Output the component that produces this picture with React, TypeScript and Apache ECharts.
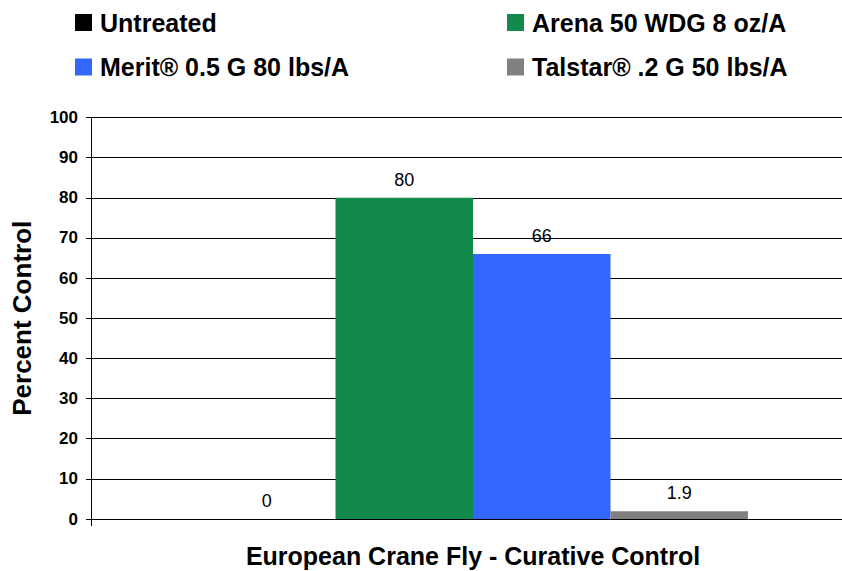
import React, { useEffect, useRef } from "react";
import * as echarts from "echarts";

const categories = ["European Crane Fly - Curative Control"];
const seriesNames = [
  "Untreated",
  "Arena 50 WDG 8 oz/A",
  "Merit® 0.5 G 80 lbs/A",
  "Talstar® .2 G 50 lbs/A",
];
const untreatedValues = [0];
const arenaValues = [80];
const meritValues = [66];
const talstarValues = [1.9];
const seriesValues = [untreatedValues, arenaValues, meritValues, talstarValues];
const colors = ["#000000", "#128A4C", "#3366FF", "#808080"];
const yMin = 0;
const yMax = 100;
const yInterval = 10;
const xTitle = "European Crane Fly - Curative Control";
const yTitle = "Percent Control";

const FONT = "'Liberation Sans', Arial, Helvetica, sans-serif";

export default function App() {
  const ref = useRef<HTMLDivElement>(null);

  useEffect(() => {
    if (!ref.current) return;
    const chart = echarts.init(ref.current, null, { renderer: "svg" });

    const legendPos = [
      { left: 75, top: 10 },
      { left: 507, top: 10 },
      { left: 75, top: 54.5 },
      { left: 507, top: 54.5 },
    ];
    const legends = seriesNames.map((name, i) => ({
      data: [name],
      left: legendPos[i].left,
      top: legendPos[i].top,
      padding: 0,
      itemWidth: 17,
      itemHeight: 17,
      icon: "rect",
      selectedMode: false,
      textStyle: {
        fontFamily: FONT,
        fontSize: 25,
        fontWeight: "bold",
        color: "#000",
        lineHeight: 25,
        padding: [0, 0, 0, 3],
      },
    }));

    chart.setOption({
      animation: false,
      backgroundColor: "#ffffff",
      legend: legends,
      grid: {
        left: 91,
        right: -13,
        top: 117.5,
        bottom: 52,
        containLabel: false,
        outerBoundsMode: "none",
      },
      xAxis: {
        type: "category",
        data: categories,
        boundaryGap: true,
        axisLabel: { show: false },
        axisLine: { show: true, lineStyle: { color: "#000", width: 1 } },
        axisTick: {
          show: true,
          length: 7,
          alignWithLabel: false,
          lineStyle: { color: "#000", width: 1 },
        },
        splitLine: { show: false },
        name: xTitle,
        nameLocation: "middle",
        nameGap: 28,
        nameTextStyle: {
          fontFamily: FONT,
          fontSize: 25,
          lineHeight: 18,
          fontWeight: "bold",
          color: "#000",
        },
      },
      yAxis: {
        type: "value",
        min: yMin,
        max: yMax,
        interval: yInterval,
        axisLine: { show: true, lineStyle: { color: "#000", width: 1 } },
        axisTick: {
          show: true,
          length: 5,
          inside: false,
          lineStyle: { color: "#000", width: 1 },
        },
        axisLabel: {
          fontFamily: FONT,
          fontSize: 17,
          fontWeight: "bold",
          color: "#000",
          margin: 13,
        },
        splitLine: { show: true, lineStyle: { color: "#000", width: 1 } },
        name: yTitle,
        nameLocation: "middle",
        nameGap: 56,
        nameTextStyle: {
          fontFamily: FONT,
          fontSize: 26,
          fontWeight: "bold",
          color: "#000",
        },
      },
      series: seriesNames.map((name, i) => ({
        name,
        type: "bar",
        data: seriesValues[i],
        barWidth: 137.5,
        barGap: "0%",
        itemStyle: { color: colors[i] },
        label: {
          show: true,
          position: "top",
          distance: 9,
          fontFamily: FONT,
          fontSize: 18,
          color: "#000",
        },
      })),
    });

    return () => {
      chart.dispose();
    };
  }, []);

  return (
    <div
      ref={ref}
      style={{
        position: "fixed",
        left: 0,
        top: 0,
        width: 842,
        height: 571,
        background: "#fff",
      }}
    />
  );
}
